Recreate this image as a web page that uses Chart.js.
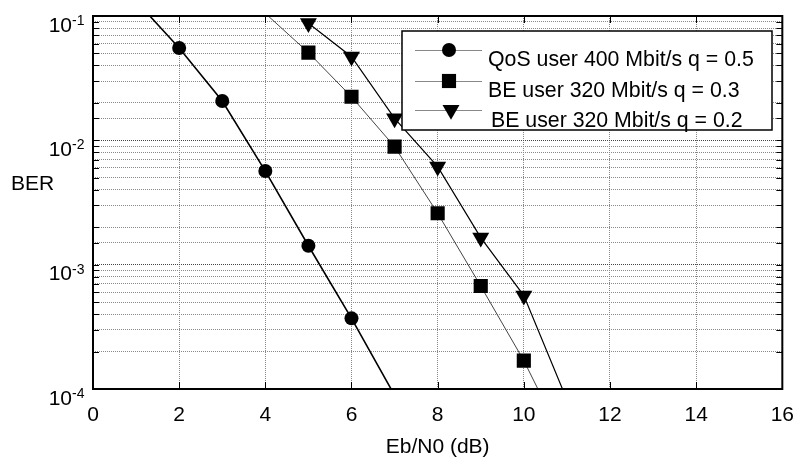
<!DOCTYPE html>
<html>
<head>
<meta charset="utf-8">
<script src="https://cdn.jsdelivr.net/npm/chart.js@4.4.0/dist/chart.umd.min.js"></script>
<style>
  body { margin: 0; background: #fff; }
</style>
</head>
<body>
<canvas id="berChart" width="808" height="457"></canvas>
<script>
const FONT = '"Liberation Sans", Arial, sans-serif';

// Eb/N0 in dB, null where a curve has no value
const ebN0 = [1, 2, 3, 4, 5, 6, 7, 8, 9, 10, 11];
const berQos = [0.132, 0.0553, 0.0207, 0.00566, 0.00142, 0.00037, 0.000089, null, null, null, null];
const berBe03 = [null, null, null, 0.105, 0.0508, 0.0224, 0.0089, 0.00259, 0.000673, 0.000169, 0.000034];
const berBe02 = [null, null, null, null, 0.0875, 0.0471, 0.0150, 0.00614, 0.00165, 0.000564, 0.000082];
const seriesNames = ['QoS user 400 Mbit/s q = 0.5', 'BE user 320 Mbit/s q = 0.3', 'BE user 320 Mbit/s q = 0.2'];
const yMajor = [1e-4, 1e-3, 1e-2, 1e-1];
const xMin = 0, xMax = 16, xStep = 2;

function toPoints(ys) {
    const pts = [];
    ys.forEach((v, i) => { if (v !== null) pts.push({x: ebN0[i], y: v}); });
    return pts;
}

// no marker where the value is outside the visible range (line still runs to the frame)
function markerRadius(r) {
    return ctx => {
        const v = ctx.raw && ctx.raw.y;
        return (v >= 1e-4 && v <= 1e-1) ? r : 0;
    };
}

const berFrame = {
    id: 'berFrame',
    afterDatasetsDraw(chart) {
        const {ctx, chartArea: a, scales: {x, y}} = chart;
        ctx.save();

        // inward ticks
        ctx.strokeStyle = '#000';
        ctx.lineWidth = 1;
        ctx.beginPath();
        x.ticks.forEach(t => {
            const px = Math.round(x.getPixelForValue(t.value)) + 0.5;
            ctx.moveTo(px, a.bottom); ctx.lineTo(px, a.bottom - 7);
            ctx.moveTo(px, a.top); ctx.lineTo(px, a.top + 7);
        });
        y.ticks.forEach(t => {
            const py = Math.round(y.getPixelForValue(t.value)) + 0.5;
            ctx.moveTo(a.left, py); ctx.lineTo(a.left + 6, py);
            ctx.moveTo(a.right, py); ctx.lineTo(a.right - 6, py);
        });
        ctx.stroke();

        // box round the plot
        ctx.lineWidth = 2;
        ctx.strokeRect(a.left, a.top, a.right - a.left, a.bottom - a.top);

        // y tick labels 10^n
        ctx.fillStyle = '#000';
        ctx.textBaseline = 'alphabetic';
        yMajor.forEach(v => {
            const py = y.getPixelForValue(v);
            ctx.font = '21px ' + FONT;
            ctx.textAlign = 'right';
            ctx.fillText('10', a.left - 21, py + 15.5);
            ctx.font = '14px ' + FONT;
            ctx.textAlign = 'left';
            ctx.fillText(String(Math.round(Math.log10(v))), a.left - 21, py + 9);
        });

        // y axis name, horizontal
        ctx.font = '21px ' + FONT;
        ctx.textAlign = 'left';
        ctx.fillText('BER', 11, 190);

        // legend
        const box = {left: 402, top: 31, right: 772, bottom: 130};
        ctx.fillStyle = '#fff';
        ctx.fillRect(box.left, box.top, box.right - box.left, box.bottom - box.top);
        ctx.strokeStyle = '#000';
        ctx.lineWidth = 1.5;
        ctx.strokeRect(box.left, box.top, box.right - box.left, box.bottom - box.top);

        const rows = [
            {lineY: 50, textY: 66, textX: 488, markX: 449},
            {lineY: 81, textY: 97, textX: 488, markX: 449},
            {lineY: 110, textY: 127, textX: 491, markX: 451}
        ];
        chart.data.datasets.forEach((ds, i) => {
            const r = rows[i];
            ctx.strokeStyle = '#888';
            ctx.lineWidth = 1;
            ctx.beginPath();
            ctx.moveTo(415, r.lineY + 0.5);
            ctx.lineTo(482, r.lineY + 0.5);
            ctx.stroke();
            ctx.fillStyle = '#000';
            ctx.strokeStyle = '#000';
            Chart.helpers.drawPoint(ctx, {
                pointStyle: ds.pointStyle,
                rotation: ds.pointRotation || 0,
                radius: ds.legendRadius,
                borderWidth: 0
            }, r.markX, r.lineY);
            ctx.font = '21.3px ' + FONT;
            ctx.textAlign = 'left';
            ctx.fillText(ds.label, r.textX, r.textY);
        });

        ctx.restore();
    }
};

new Chart(document.getElementById('berChart'), {
    type: 'line',
    data: {
        datasets: [{
            label: seriesNames[0],
            data: toPoints(berQos),
            borderColor: '#000',
            backgroundColor: '#000',
            borderWidth: 1.6,
            pointStyle: 'circle',
            pointRadius: markerRadius(7),
            legendRadius: 7,
            pointBorderWidth: 0,
            tension: 0
        }, {
            label: seriesNames[1],
            data: toPoints(berBe03),
            borderColor: '#444',
            backgroundColor: '#000',
            borderWidth: 1,
            pointStyle: 'rect',
            pointRadius: markerRadius(10),
            legendRadius: 10,
            pointBorderWidth: 0,
            tension: 0
        }, {
            label: seriesNames[2],
            data: toPoints(berBe02),
            borderColor: '#000',
            backgroundColor: '#000',
            borderWidth: 1.2,
            pointStyle: 'triangle',
            pointRotation: 180,
            pointRadius: markerRadius(9.8),
            legendRadius: 9.8,
            pointBorderWidth: 0,
            tension: 0
        }]
    },
    options: {
        responsive: false,
        animation: false,
        devicePixelRatio: 1,
        layout: { padding: {left: 0, right: 13, top: 16, bottom: 0} },
        plugins: {
            legend: { display: false },
            tooltip: { enabled: false }
        },
        scales: {
            x: {
                type: 'linear',
                min: xMin,
                max: xMax,
                ticks: {
                    stepSize: xStep,
                    color: '#000',
                    font: {family: FONT, size: 21},
                    padding: 14,
                    maxRotation: 0
                },
                grid: { color: '#888', drawTicks: false, lineWidth: 1 },
                border: { display: false, dash: [1, 1] },
                title: {
                    display: true,
                    text: 'Eb/N0 (dB)',
                    color: '#000',
                    font: {family: FONT, size: 21},
                    padding: {top: 0, bottom: -3}
                },
                afterFit(s) { s.height = 68; }
            },
            y: {
                type: 'logarithmic',
                min: 1e-4,
                max: 1e-1,
                ticks: { display: false },
                grid: {
                    color: c => (yMajor.includes(c.tick.value) ? '#444' : '#888'),
                    drawTicks: false,
                    lineWidth: 1
                },
                border: { display: false, dash: [1, 1] },
                afterFit(s) { s.width = 93; }
            }
        }
    },
    plugins: [berFrame]
});
</script>
</body>
</html>
